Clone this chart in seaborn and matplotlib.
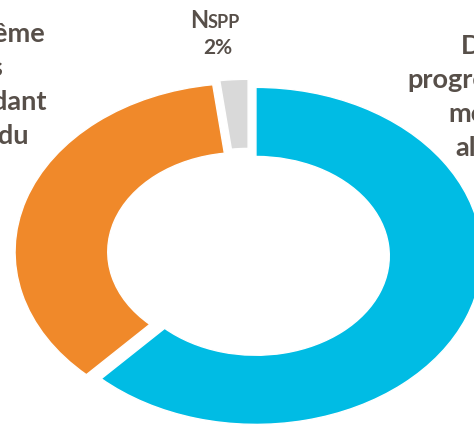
import seaborn as sns
import matplotlib.pyplot as plt

# Données du graphique
categories = ["Des\nprogressions\nmoins\nalors", "Tout de même\nprogrès\nmoins pendant\nau début du", "NSPP"]
valeurs = [62, 36, 2]
couleurs = ["#00BCE4", "#F0892A", "#D9D9D9"]
ecarts = [0.035, 0.035, 0.035]

sns.set_theme(style="white")
plt.rcParams["font.family"] = ["Lato", "DejaVu Sans"]
texte = "#574F49"

W, H = 474, 425
fig = plt.figure(figsize=(W / 100, H / 100), dpi=100)
ax = fig.add_axes([0, 0, 1, 1])

# anneau elliptique : on étire les axes
cx, cy, a, b = 248.6, 253.7, 226, 168.5
ax.pie(valeurs, colors=couleurs, explode=ecarts, startangle=90, counterclock=False,
       wedgeprops=dict(width=0.41, edgecolor="white", linewidth=1))
ax.set_aspect("auto")
ax.set_xlim(-cx / a, (W - cx) / a)
ax.set_ylim(-(H - cy) / b, cy / b)
ax.axis("off")

# étiquettes (coupées par le bord de l'image, comme dans l'original)
fig.text(484 / W, 1 - 97.5 / H, categories[0], ha="center", va="center", fontsize=19.5,
         fontweight="bold", color=texte, linespacing=1.5)
fig.text(-43 / W, 1 - 85 / H, categories[1], ha="center", va="center", fontsize=19.5,
         fontweight="bold", color=texte, linespacing=1.5)
fig.text(208 / W, 1 - 28 / H, "N", ha="right", va="baseline", fontsize=17,
         fontweight="bold", color=texte)
fig.text(208 / W, 1 - 28 / H, "SPP", ha="left", va="baseline", fontsize=13,
         fontweight="bold", color=texte)
fig.text(218 / W, 1 - 47.5 / H, f"{valeurs[2]}%", ha="center", va="center", fontsize=15,
         fontweight="bold", color=texte)

fig.savefig("out.png", dpi=100)
